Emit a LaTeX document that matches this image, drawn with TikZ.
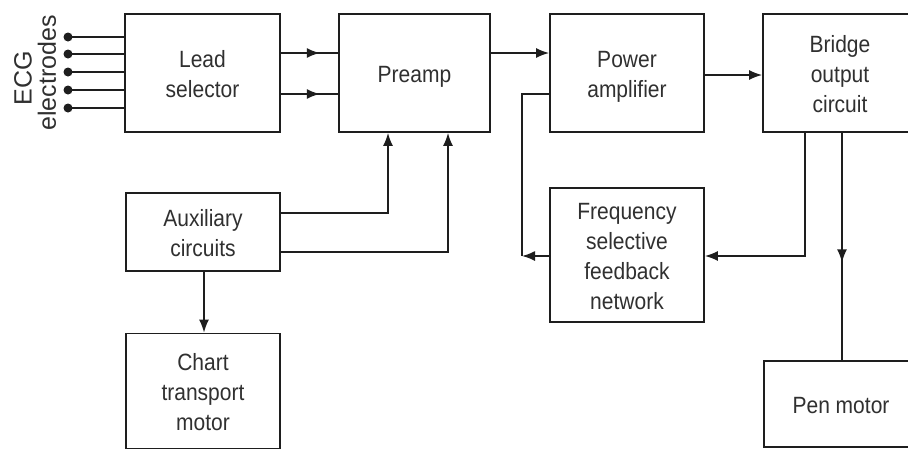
\documentclass[tikz,border=0pt]{standalone}
\usepackage{fontspec}
\setmainfont{Liberation Sans}
\usetikzlibrary{arrows.meta,decorations.markings}
\definecolor{linec}{HTML}{1E1E1E}
\definecolor{textc}{HTML}{303030}
\newcommand\stx[1]{\raisebox{-3.5pt}[\height][\depth]{\scalebox{1}[1.12]{\begin{tabular}{@{}c@{}}#1\end{tabular}}}}
\begin{document}
\begin{tikzpicture}[x=1pt,y=-1pt,
 blk/.style={draw=linec, line width=1.8pt, minimum width=154pt, align=center, text=textc, font=\fontsize{21}{26.8}\selectfont, inner sep=0pt},
 conn/.style={draw=linec, line width=1.6pt},
 tipa/.tip={Latex[length=13pt,width=10pt]},
 arr/.style={conn, -tipa},
 midarr/.style={conn, postaction={decorate}, decoration={markings, mark=at position #1 with {\arrow{tipa}}}},
 side/.style={rotate=90, text=textc, font=\fontsize{25}{25}\selectfont, inner sep=0pt}
]
\useasboundingbox (0,0) rectangle (908,450);
\clip (0,0) rectangle (908,450);
\fill[white] (0,0) rectangle (908,450);

% blocks
\node[blk, minimum width=155pt, minimum height=118pt] (lead) at (202.5,73) {\stx{Lead\\selector}};
\node[blk, minimum width=151pt, minimum height=118pt] (preamp) at (414.5,73) {\stx{Preamp}};
\node[blk, minimum height=118pt] (power) at (627,73) {\stx{Power\\amplifier}};
\node[blk, minimum height=118pt] (bridge) at (840,73) {\stx{Bridge\\output\\circuit}};
\node[blk, minimum height=134pt] (freq) at (627,255) {\stx{Frequency\\selective\\feedback\\network}};
\node[blk, minimum height=78pt] (aux) at (203,232) {\stx{Auxiliary\\circuits}};
\node[blk, minimum height=115pt] (chart) at (203,391) {\stx{Chart\\transport\\motor}};
\node[blk, minimum height=86pt] (pen) at (841,404) {\stx{Pen motor}};

% side labels
\node[side] (ecg) at (23,78) {ECG};
\node[side] (electr) at (47,73) {electrodes};

% electrodes
\foreach \i/\yy in {1/37,2/54,3/72,4/90,5/108}{
  \coordinate (e\i) at (68,\yy);
  \draw[conn] (e\i) -- (e\i -| lead.west);
  \fill[linec] (e\i) circle (4.5);
}

% row helpers
\coordinate (ra) at (0,53);
\coordinate (rb) at (0,94);
\coordinate (rc) at (0,75);
\coordinate (rd) at (0,256);
\coordinate (re) at (0,213);
\coordinate (rf) at (0,252);

% lead -> preamp
\draw[midarr=0.68] (lead.east |- ra) -- (preamp.west |- ra);
\draw[midarr=0.68] (lead.east |- rb) -- (preamp.west |- rb);

% preamp -> power
\draw[arr] (preamp.east |- ra) -- (power.west |- ra);

% power -> bridge
\draw[arr] (power.east |- rc) -- (bridge.west |- rc);

% feedback network -> power amplifier
\coordinate (fbc) at (522,256);
\draw[arr] (freq.west |- rd) -- (fbc);
\draw[conn] (fbc) -- (fbc |- rb) -- (power.west |- rb);

% bridge -> feedback network
\coordinate (bfa) at (805,0);
\draw[arr] (bridge.south -| bfa) -- (bfa |- rd) -- (freq.east |- rd);

% bridge -> pen motor
\coordinate (bpa) at (842,0);
\draw[midarr=0.57] (bridge.south -| bpa) -- (pen.north -| bpa);

% auxiliary -> preamp
\coordinate (axa) at (388,0);
\coordinate (axb) at (448,0);
\draw[arr] (aux.east |- re) -- (axa |- re) -- (preamp.south -| axa);
\draw[arr] (aux.east |- rf) -- (axb |- rf) -- (preamp.south -| axb);

% auxiliary -> chart
\coordinate (axc) at (204,0);
\draw[arr] (aux.south -| axc) -- (chart.north -| axc);
\end{tikzpicture}
\end{document}
